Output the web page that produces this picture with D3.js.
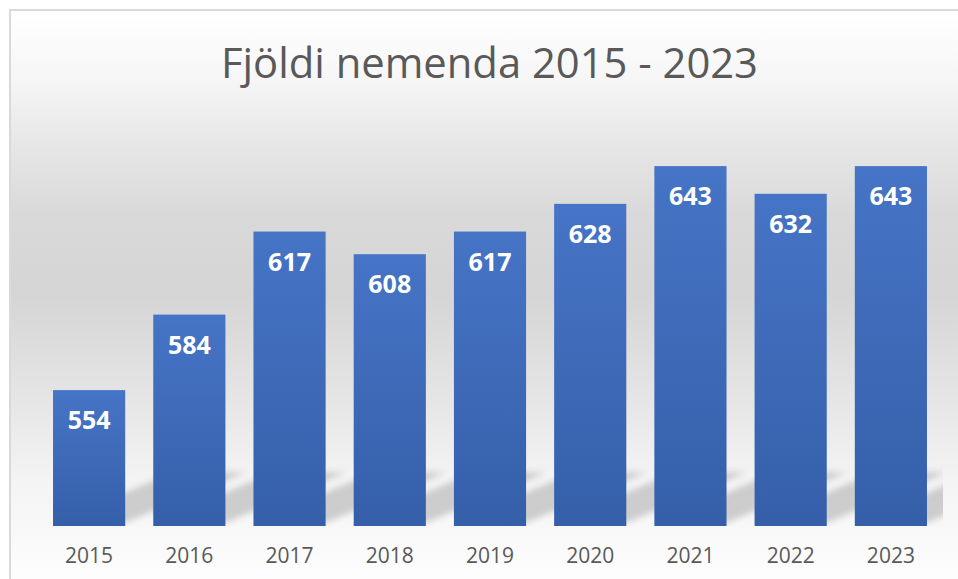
<!DOCTYPE html>
<html>
<head>
<meta charset="utf-8">
<script src="https://cdn.jsdelivr.net/npm/d3@7"></script>
<style>
  body { margin: 0; background: #fff; }
  svg { display: block; }
</style>
</head>
<body>
<div id="chart-area"></div>
<script>
// data
var years = ["2015", "2016", "2017", "2018", "2019", "2020", "2021", "2022", "2023"];
var students = [554, 584, 617, 608, 617, 628, 643, 632, 643];
var yDomain = [500, 650];
var title = "Fjöldi nemenda 2015 - 2023";

var width = 958;
var height = 579;

var svg = d3.select("#chart-area")
    .append("svg")
        .attr("width", width)
        .attr("height", height);

var defs = svg.append("defs");

// chart background: white -> gray -> white
var bg = defs.append("linearGradient")
    .attr("id", "bg")
    .attr("gradientUnits", "userSpaceOnUse")
    .attr("x1", 0).attr("y1", 10)
    .attr("x2", 0).attr("y2", 579);
[[0, "#ffffff"], [0.12, "#f6f6f6"], [0.24, "#e6e6e6"], [0.36, "#d9d9d9"], [0.5, "#d5d5d5"],
 [0.68, "#e5e5e5"], [0.83, "#f4f4f4"], [1, "#fdfdfd"]].forEach((s) => {
    bg.append("stop").attr("offset", s[0]).attr("stop-color", s[1]);
});

var barGrad = defs.append("linearGradient")
    .attr("id", "bar")
    .attr("x1", 0).attr("y1", 0)
    .attr("x2", 0).attr("y2", 1);
barGrad.append("stop").attr("offset", 0).attr("stop-color", "#4674c6");
barGrad.append("stop").attr("offset", 1).attr("stop-color", "#355fa9");

defs.append("filter")
    .attr("id", "blur")
    .attr("x", "-20%").attr("y", "-20%")
    .attr("width", "140%").attr("height", "140%")
    .append("feGaussianBlur")
        .attr("stdDeviation", 3);

svg.append("rect")
    .attr("x", 10)
    .attr("y", 10)
    .attr("width", width + 20)
    .attr("height", height + 20)
    .attr("fill", "url(#bg)")
    .attr("stroke", "#d9d9d9")
    .attr("stroke-width", 2);

svg.append("text")
    .attr("x", 489.5)
    .attr("y", 78)
    .attr("text-anchor", "middle")
    .attr("font-family", "'Open Sans', sans-serif")
    .attr("font-size", "42px")
    .attr("textLength", 537)
    .attr("lengthAdjust", "spacingAndGlyphs")
    .attr("fill", "#595959")
    .text(title);

var x = d3.scaleBand()
    .domain(years)
    .range([39, 941])
    .paddingInner(0.28)
    .paddingOuter(0.14);

var y = d3.scaleLinear()
    .domain(yDomain)
    .range([526, 148.5]);

var data = years.map((d, i) => { return {year: d, value: students[i]}; });

defs.append("clipPath")
    .attr("id", "plotclip")
    .append("rect")
        .attr("x", 39)
        .attr("y", y(yDomain[1]))
        .attr("width", 904)
        .attr("height", y(yDomain[0]) - y(yDomain[1]));

// soft floor shadows cast to the upper right
var base = y(yDomain[0]);
var L = 120, k = 0.42;
svg.append("g")
    .attr("clip-path", "url(#plotclip)")
    .selectAll("polygon")
    .data(data)
    .enter()
    .append("polygon")
        .attr("points", (d) => {
            var x0 = x(d.year), x1 = x0 + x.bandwidth();
            return [[x0, base - 3], [x1, base - 3],
                    [x1 + L, base - 3 - L * k], [x0 + L, base - 3 - L * k]]
                .map((p) => p.join(",")).join(" ");
        })
        .attr("fill", "#000")
        .attr("fill-opacity", 0.17)
        .attr("filter", "url(#blur)");

var g = svg.append("g");

g.selectAll("rect.bar")
    .data(data)
    .enter()
    .append("rect")
        .attr("class", "bar")
        .attr("x", (d) => x(d.year))
        .attr("y", (d) => y(d.value))
        .attr("width", x.bandwidth())
        .attr("height", (d) => y(yDomain[0]) - y(d.value))
        .attr("fill", "url(#bar)");

g.selectAll("text.label")
    .data(data)
    .enter()
    .append("text")
        .attr("class", "label")
        .attr("x", (d) => x(d.year) + x.bandwidth() / 2)
        .attr("y", (d) => y(d.value) + 39)
        .attr("text-anchor", "middle")
        .attr("font-family", "'Open Sans', sans-serif")
        .attr("font-weight", "bold")
        .attr("font-size", "25px")
        .attr("fill", "#ffffff")
        .text((d) => d.value);

var bottomAxis = d3.axisBottom(x).tickSize(0).tickPadding(0);

var ax = svg.append("g")
    .attr("class", "x axis")
    .attr("transform", "translate(0, " + base + ")")
    .call(bottomAxis);

ax.select(".domain").remove();
ax.selectAll("text")
    .attr("y", 37)
    .attr("dy", 0)
    .attr("font-family", "'Open Sans', sans-serif")
    .attr("font-size", "21px")
    .attr("fill", "#595959");
</script>
</body>
</html>
